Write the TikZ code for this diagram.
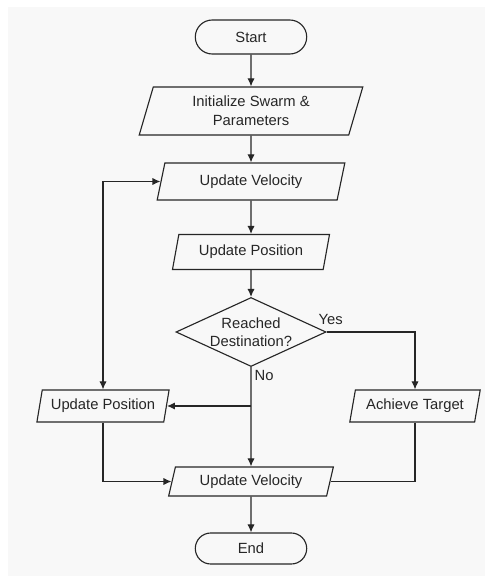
\documentclass[tikz,border=0pt]{standalone}
\usepackage{fontspec}
\setmainfont{Liberation Sans}
\usepackage{tikz}
\usetikzlibrary{arrows.meta,positioning,shapes.geometric,shapes.misc}
\definecolor{panelgray}{HTML}{F8F8F8}
\definecolor{inkgray}{HTML}{262626}
\tikzset{
  base/.style={draw=inkgray, line width=0.8pt, align=center, text=inkgray, font=\fontsize{10.5}{13.5}\selectfont, inner sep=2pt},
  terminal/.style={base, rounded rectangle, minimum width=2.925cm, minimum height=0.85cm},
  io/.style={base, trapezium, trapezium left angle=76, trapezium right angle=104, trapezium stretches=true},
  decision/.style={base, diamond, aspect=2.17, inner sep=0pt, minimum width=3.75cm, minimum height=1.725cm, font=\fontsize{10.5}{12.5}\selectfont},
  lbl/.style={font=\fontsize{10.5}{12.5}\selectfont, text=inkgray, inner sep=1pt},
  wire/.style={draw=inkgray, line width=0.8pt},
  arrow/.style={wire, -{Latex[length=2mm,width=1.8mm]}},
  twoway/.style={wire, {Latex[length=2mm,width=1.8mm]}-{Latex[length=2mm,width=1.8mm]}}
}
\begin{document}
\begin{tikzpicture}[x=0.025cm,y=-0.025cm]
  \fill[panelgray] (8,7) rectangle (485,576);
  \useasboundingbox (0,0) rectangle (485,576);

  \node[terminal] (start) at (251,37) {Start};
  \node[io, minimum width=5.65cm, minimum height=1.2cm] (init) at (251,111) {Initialize Swarm \&\\Parameters};
  \node[io, minimum width=4.7cm, minimum height=0.925cm] (velA) at (251,181.5) {Update Velocity};
  \node[io, minimum width=3.95cm, minimum height=0.875cm] (posA) at (251,252) {Update Position};
  \node[decision] (dest) at (251,332) {Reached\\Destination?};
  \node[io, minimum width=3.325cm, minimum height=0.8cm] (posB) at (103,406) {Update Position};
  \node[io, minimum width=3.275cm, minimum height=0.8cm] (target) at (415,406) {Achieve Target};
  \node[io, minimum width=4.125cm, minimum height=0.725cm] (velB) at (251,481.5) {Update Velocity};
  \node[terminal, minimum height=0.775cm] (end) at (251,548.5) {End};

  \node[lbl, above=1.5mm of dest.east, xshift=1mm] (yes) {Yes};
  \node[lbl, anchor=west] (no) at ([xshift=0.5mm,yshift=-2mm]dest.south) {No};
  \coordinate (split) at (dest.south |- posB.east);

  \draw[arrow] (start) -- (init);
  \draw[arrow] (init) -- (velA);
  \draw[arrow] (velA) -- (posA);
  \draw[arrow] (posA) -- (dest);
  \draw[arrow] (dest.east) -| (target.north);
  \draw[arrow] (dest.south) -- (velB.north);
  \draw[arrow] (split) -- (posB.east);
  \draw[twoway] (posB.north) |- (velA.west);
  \draw[arrow] (posB.south) |- (velB.west);
  \draw[wire] (target.south) |- (velB.east);
  \draw[arrow] (velB) -- (end);
\end{tikzpicture}
\end{document}
